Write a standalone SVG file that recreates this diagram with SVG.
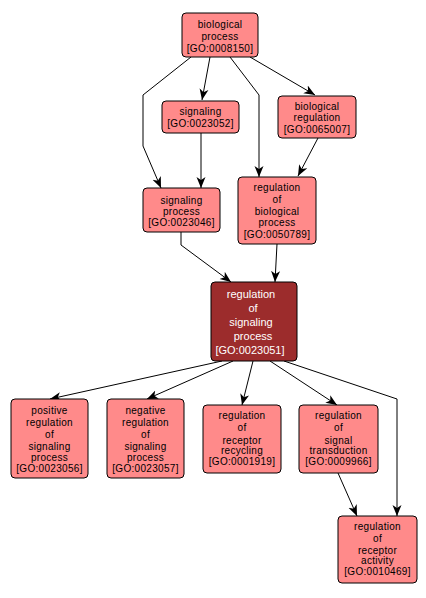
<svg xmlns="http://www.w3.org/2000/svg" width="426" height="598" viewBox="0 0 426 598">
<style>
.n rect{fill:#ff8a8a;stroke:#000;stroke-width:1}
.n text{font-family:"Liberation Sans",Arial,sans-serif;font-size:10px;letter-spacing:0.3px;text-anchor:middle;fill:#000}
#GO0023051 rect{fill:#9c2c2c}
#GO0023051 text{fill:#fff;font-size:11px;letter-spacing:0}
.e path{fill:none;stroke:#000;stroke-width:1;marker-end:url(#ah)}
</style>
<defs>
<marker id="ah" viewBox="0 -5 11 10" refX="11" refY="0" markerWidth="11" markerHeight="10" markerUnits="userSpaceOnUse" orient="auto">
<path d="M0,-4.5 L11,0 L0,4.5 L3,0 Z" fill="#000"/>
</marker>
</defs>
<rect width="426" height="598" fill="#fff"/>
<g class="e" id="edges">
<path d="M210,57 L202,100"/>
<path d="M250,57 L315,95"/>
<path d="M191,57 L143,95 L143,146 L161,188"/>
<path d="M230,57 L259,95 L259,177"/>
<path d="M201,133 L201,188"/>
<path d="M318,138 L298,176"/>
<path d="M181,232 L181,245 L231,282"/>
<path d="M277,244 L275,282"/>
<path d="M222,361 L50,399"/>
<path d="M233,361 L147,399"/>
<path d="M253,361 L242,405"/>
<path d="M270,361 L337,405"/>
<path d="M284,361 L397,399 L397,516"/>
<path d="M338,473 L357,516"/>
</g>
<g class="n" id="GO0008150"><rect x="182" y="13" width="76" height="44" rx="4"/>
<text x="220" y="27.5">biological</text><text x="220" y="39.5">process</text><text x="220" y="51.5">[GO:0008150]</text></g>
<g class="n" id="GO0023052"><rect x="162" y="101" width="77" height="32" rx="4"/>
<text x="200.5" y="115">signaling</text><text x="200.5" y="127">[GO:0023052]</text></g>
<g class="n" id="GO0065007"><rect x="278" y="96" width="78" height="42" rx="4"/>
<text x="317" y="109.5">biological</text><text x="317" y="121">regulation</text><text x="317" y="133">[GO:0065007]</text></g>
<g class="n" id="GO0023046"><rect x="143" y="188" width="77" height="44" rx="4"/>
<text x="181.5" y="203.5">signaling</text><text x="181.5" y="214.5">process</text><text x="181.5" y="225.5">[GO:0023046]</text></g>
<g class="n" id="GO0050789"><rect x="238" y="177" width="78" height="67" rx="4"/>
<text x="277" y="191">regulation</text><text x="277" y="203">of</text><text x="277" y="214.5">biological</text><text x="277" y="226">process</text><text x="277" y="238">[GO:0050789]</text></g>
<g class="n" id="GO0023051"><rect x="211" y="282" width="86" height="79" rx="4"/>
<text x="251" y="298">regulation</text><text x="253" y="312">of</text><text x="251" y="326">signaling</text><text x="253" y="340">process</text><text x="250" y="354">[GO:0023051]</text></g>
<g class="n" id="GO0023056"><rect x="11" y="399" width="77" height="79" rx="4"/>
<text x="49.5" y="413.5">positive</text><text x="49.5" y="425.5">regulation</text><text x="49.5" y="437.5">of</text><text x="49.5" y="449.5">signaling</text><text x="49.5" y="461">process</text><text x="49.5" y="472">[GO:0023056]</text></g>
<g class="n" id="GO0023057"><rect x="107" y="399" width="77" height="79" rx="4"/>
<text x="145.5" y="413.5">negative</text><text x="145.5" y="425.5">regulation</text><text x="145.5" y="437.5">of</text><text x="145.5" y="449.5">signaling</text><text x="145.5" y="461">process</text><text x="145.5" y="472">[GO:0023057]</text></g>
<g class="n" id="GO0001919"><rect x="203" y="405" width="78" height="68" rx="4"/>
<text x="242" y="419">regulation</text><text x="242" y="431">of</text><text x="242" y="443.5">receptor</text><text x="242" y="454">recycling</text><text x="242" y="465">[GO:0001919]</text></g>
<g class="n" id="GO0009966"><rect x="299" y="405" width="79" height="68" rx="4"/>
<text x="338.5" y="419">regulation</text><text x="338.5" y="431">of</text><text x="338.5" y="443.5">signal</text><text x="338.5" y="454">transduction</text><text x="338.5" y="465">[GO:0009966]</text></g>
<g class="n" id="GO0010469"><rect x="338" y="516" width="79" height="67" rx="4"/>
<text x="377.5" y="530">regulation</text><text x="377.5" y="542">of</text><text x="377.5" y="553.5">receptor</text><text x="377.5" y="564">activity</text><text x="377.5" y="575">[GO:0010469]</text></g>
</svg>
